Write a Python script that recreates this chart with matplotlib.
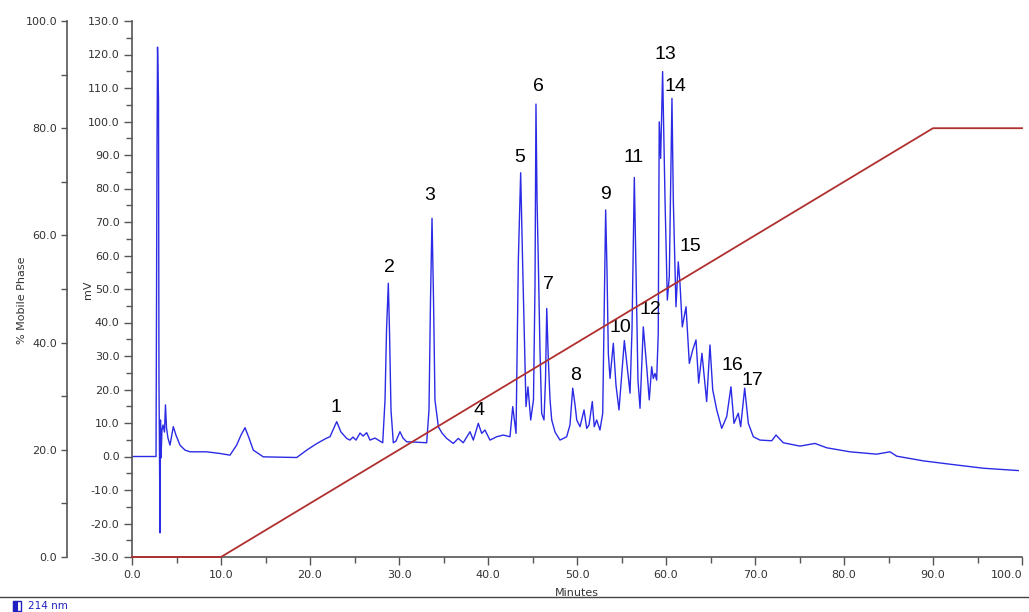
import matplotlib
matplotlib.use("Agg")
import matplotlib.pyplot as plt
from matplotlib.ticker import MultipleLocator, FormatStrFormatter
from matplotlib.patches import Rectangle

# ---- data ----
time_min = [0.0, 2.70, 2.81, 2.87, 2.98, 3.03, 3.15, 3.20, 3.26, 3.37, 3.48, 3.65, 3.76, 3.88,
            4.04, 4.27, 4.64, 4.94, 5.39, 5.96, 6.52, 8.39, 9.89, 11.01, 11.76, 12.25, 12.70,
            13.15, 13.63, 14.75, 18.51, 19.63, 20.67, 21.12, 21.88, 22.25, 23.00, 23.48, 24.12,
            24.49, 24.83, 25.17, 25.62, 25.96, 26.37, 26.74, 27.30, 28.17, 28.43, 28.60, 28.80,
            28.93, 29.10, 29.36, 29.66, 30.11, 30.45, 30.86, 31.80, 33.11, 33.37, 33.54, 33.71,
            33.88, 34.04, 34.42, 34.83, 35.36, 36.10, 36.66, 37.22, 37.98, 38.35, 38.91, 39.29,
            39.66, 40.22, 40.98, 41.72, 42.47, 42.78, 43.15, 43.41, 43.67, 43.90, 44.27, 44.49,
            44.80, 45.11, 45.28, 45.39, 45.51, 45.65, 45.84, 46.03, 46.29, 46.46, 46.60, 46.78,
            46.97, 47.16, 47.53, 48.09, 48.84, 49.21, 49.52, 49.78, 49.97, 50.34, 50.79, 51.09,
            51.35, 51.72, 51.94, 52.21, 52.58, 52.89, 53.03, 53.22, 53.37, 53.52, 53.71, 54.08,
            54.38, 54.72, 55.06, 55.32, 55.62, 55.96, 56.18, 56.44, 56.71, 56.85, 57.08, 57.45,
            57.83, 58.12, 58.39, 58.57, 58.76, 58.95, 59.13, 59.24, 59.40, 59.62, 59.89, 60.15,
            60.37, 60.67, 60.82, 61.12, 61.38, 61.57, 61.83, 62.25, 62.62, 63.00, 63.37, 63.67,
            64.04, 64.57, 64.94, 65.25, 65.70, 66.26, 66.82, 67.30, 67.64, 68.12, 68.39, 68.84,
            69.25, 69.81, 70.56, 71.88, 72.36, 73.18, 75.06, 76.74, 78.06, 80.67, 83.67, 85.17,
            85.92, 88.91, 91.91, 95.65, 99.58]
signal_mv = [0.0, 0.0, 91.5, 122.2, 106.4, 22.8, -22.8, 10.9, -0.4, 7.9, 9.4, 7.3, 15.4, 8.5,
             5.5, 3.4, 8.9, 6.4, 3.4, 1.9, 1.4, 1.4, 0.9, 0.4, 3.4, 6.4, 8.6,
             5.5, 1.9, -0.1, -0.3, 1.9, 3.7, 4.4, 5.5, 5.9, 10.4, 7.3, 5.4,
             4.9, 5.8, 4.9, 7.0, 6.1, 7.1, 4.9, 5.5, 4.1, 16.9, 37.8, 51.7,
             37.8, 13.9, 4.1, 4.6, 7.4, 5.5, 4.4, 4.3, 4.1, 13.9, 46.7, 71.1,
             46.7, 16.9, 8.9, 7.0, 5.4, 3.9, 5.4, 4.1, 7.4, 4.9, 9.9, 6.9,
             7.9, 4.9, 5.9, 6.4, 5.9, 14.9, 6.9, 58.7, 84.7, 56.7, 14.9, 20.8,
             10.9, 16.9, 50.7, 105.2, 76.6, 58.7, 31.8, 12.9, 10.9, 22.8, 44.2, 28.8,
             16.9, 10.9, 7.3, 4.9, 5.9, 9.4, 20.4, 15.4, 10.9, 8.9, 13.9, 8.4,
             9.4, 16.4, 8.9, 10.9, 7.9, 12.9, 37.8, 73.6, 55.7, 30.8, 23.3, 33.8,
             21.3, 13.9, 25.8, 34.6, 27.3, 18.9, 37.8, 83.3, 43.7, 22.8, 14.4, 38.7,
             26.8, 16.9, 26.8, 23.3, 24.8, 22.8, 36.8, 99.9, 89.0, 114.9, 76.6, 46.7,
             53.7, 106.9, 76.6, 44.7, 58.1, 51.7, 38.7, 44.7, 27.8, 31.8, 34.8, 21.9,
             30.8, 16.4, 33.3, 19.9, 13.9, 8.4, 11.9, 20.8, 9.9, 12.9, 8.9, 20.4,
             9.9, 5.9, 4.9, 4.7, 6.4, 4.1, 3.1, 3.9, 2.6, 1.4, 0.7, 1.4,
             0.1, -1.3, -2.3, -3.5, -4.2]

gradient_time = [0.0, 10.0, 90.0, 100.0]
gradient_pct = [0.0, 0.0, 80.0, 80.0]

x_ticks = [0, 10, 20, 30, 40, 50, 60, 70, 80, 90, 100]

peak_labels = ["1", "2", "3", "4", "5", "6", "7", "8", "9", "10", "11", "12", "13", "14",
               "15", "16", "17"]
label_time = [22.92, 28.88, 33.48, 38.99, 43.60, 45.62, 46.74, 49.89, 53.15, 54.83, 56.40,
              58.20, 59.89, 61.01, 62.70, 67.42, 69.66]
label_mv = [14.5, 56.3, 77.8, 13.6, 89.4, 110.3, 51.2, 24.3, 78.1, 38.4, 89.4, 44.0, 120.1,
            110.3, 62.8, 27.3, 22.8]

legend_text = "214 nm"

# ---- figure ----
W, H = 1029, 612
fig = plt.figure(figsize=(W / 100, H / 100), dpi=100)
fig.patch.set_facecolor("white")

left, right, top, bottom = 132, 1022, 21, 557
pos = [left / W, 1 - bottom / H, (right - left) / W, (bottom - top) / H]

axis_col = "#555555"
text_col = "#333333"
tick_fs = 8

ax = fig.add_axes(pos)
ax.plot(time_min, signal_mv, color="#2b2be6", lw=1.0, zorder=2)
ax.set_xlim(0, 100)
ax.set_ylim(-30, 130)
for s in ["top", "right"]:
    ax.spines[s].set_visible(False)
for s in ["left", "bottom"]:
    ax.spines[s].set_color(axis_col)
    ax.spines[s].set_linewidth(1.2)
ax.set_xticks(x_ticks)
ax.set_xticklabels([f"{v:.1f}" for v in x_ticks])
ax.xaxis.set_minor_locator(MultipleLocator(5))
ax.yaxis.set_major_locator(MultipleLocator(10))
ax.yaxis.set_minor_locator(MultipleLocator(5))
ax.yaxis.set_major_formatter(FormatStrFormatter("%.1f"))
ax.tick_params(axis="both", which="major", length=6, width=1, color=axis_col,
               labelsize=tick_fs, labelcolor=text_col, pad=3)
ax.tick_params(axis="both", which="minor", length=4, width=1, color=axis_col)
ax.xaxis.get_major_ticks()[-1].label1.set_horizontalalignment("right")
ax.set_xlabel("Minutes", fontsize=tick_fs, color=text_col)
ax.xaxis.set_label_coords(0.5, -0.058)
ax.set_ylabel("mV", fontsize=tick_fs, color=text_col)
ax.yaxis.set_label_coords((93 - left) / (right - left), (bottom - 290) / (bottom - top))

for lab, t, v in zip(peak_labels, label_time, label_mv):
    ax.text(t, v, lab, ha="center", va="center", fontsize=14,
            family="Liberation Sans", color="black", zorder=4)

# gradient axis (% Mobile Phase)
ax2 = fig.add_axes(pos)
ax2.patch.set_visible(False)
ax2.plot(gradient_time, gradient_pct, color="#b03030", lw=1.3, zorder=3, clip_on=False)
ax2.set_xlim(0, 100)
ax2.set_ylim(0, 100)
ax2.xaxis.set_visible(False)
for s in ["top", "right", "bottom"]:
    ax2.spines[s].set_visible(False)
ax2.spines["left"].set_position(("axes", (67 - left) / (right - left)))
ax2.spines["left"].set_color(axis_col)
ax2.spines["left"].set_linewidth(1.2)
ax2.yaxis.set_major_locator(MultipleLocator(20))
ax2.yaxis.set_minor_locator(MultipleLocator(10))
ax2.yaxis.set_major_formatter(FormatStrFormatter("%.1f"))
ax2.tick_params(axis="y", which="major", length=4, width=1, color=axis_col,
                labelsize=tick_fs, labelcolor=text_col, pad=3)
ax2.tick_params(axis="y", which="minor", length=4, width=1, color=axis_col)
ax2.set_ylabel("% Mobile Phase", fontsize=tick_fs, color=text_col)
ax2.yaxis.set_label_coords((27 - left) / (right - left), (bottom - 300) / (bottom - top))

# bottom separator and legend
fig.add_artist(plt.Line2D([0, 1], [1 - 597 / H, 1 - 597 / H], transform=fig.transFigure,
                          color="#444444", lw=1.0))
bx, by, bw, bh = 13 / W, 1 - 611 / H, 8 / W, 10 / H
fig.add_artist(Rectangle((bx, by), bw, bh, transform=fig.transFigure,
                         facecolor="white", edgecolor="#2020c0", lw=1.0))
fig.add_artist(Rectangle((bx, by), bw / 2, bh, transform=fig.transFigure,
                         facecolor="#2020c0", edgecolor="#2020c0", lw=0.8))
fig.text(28 / W, 1 - 606 / H, legend_text, fontsize=7.5, color="#2020c0", va="center")

fig.savefig("out.png", dpi=100)
